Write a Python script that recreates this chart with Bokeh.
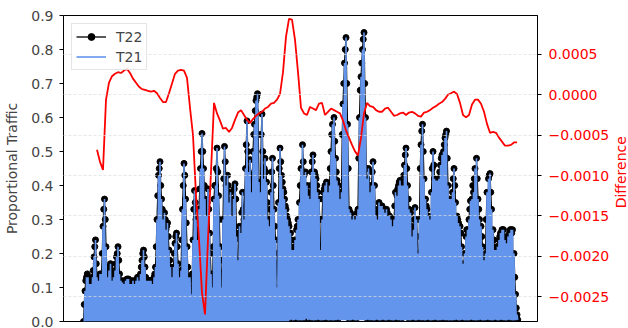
import math
from bokeh.plotting import figure
from bokeh.layouts import row
from bokeh.models import (Range1d, LinearAxis, FixedTicker, CustomJSTickFormatter,
                          PrintfTickFormatter, Grid, Legend, LegendItem)
from bokeh.core.properties import value
from bokeh.embed import file_html
from bokeh.resources import INLINE

# ---- data ----
t22 = [
    0.00, 0.05, 0.09, 0.12, 0.13, 0.14, 0.13, 0.11, 0.11, 0.10,
    0.11, 0.12, 0.13, 0.15, 0.19, 0.22, 0.24, 0.17, 0.13, 0.12,
    0.12, 0.13, 0.14, 0.13, 0.14, 0.20, 0.28, 0.33, 0.36, 0.30,
    0.22, 0.16, 0.13, 0.14, 0.15, 0.16, 0.17, 0.14, 0.12, 0.13,
    0.13, 0.14, 0.15, 0.17, 0.19, 0.20, 0.22, 0.18, 0.14, 0.12,
    0.12, 0.11, 0.115, 0.12, 0.11, 0.11, 0.12, 0.12, 0.125, 0.12,
    0.125, 0.12, 0.11, 0.12, 0.11, 0.115, 0.12, 0.11, 0.11, 0.12,
    0.12, 0.12, 0.13, 0.13, 0.12, 0.12, 0.14, 0.16, 0.18, 0.20,
    0.21, 0.19, 0.16, 0.13, 0.12, 0.12, 0.12, 0.11, 0.12, 0.12,
    0.12, 0.12, 0.11, 0.12, 0.13, 0.14, 0.16, 0.22, 0.30, 0.37,
    0.43, 0.45, 0.47, 0.40, 0.36, 0.33, 0.30, 0.28, 0.32, 0.30,
    0.27, 0.28, 0.29, 0.25, 0.21, 0.18, 0.16, 0.14, 0.13, 0.15,
    0.16, 0.20, 0.23, 0.25, 0.26, 0.22, 0.17, 0.14, 0.13, 0.12,
    0.15, 0.24, 0.33, 0.40, 0.465, 0.43, 0.36, 0.29, 0.22, 0.16,
    0.13, 0.12, 0.13, 0.10, 0.08, 0.14, 0.24, 0.33, 0.385, 0.35,
    0.30, 0.27, 0.24, 0.26, 0.33, 0.39, 0.45, 0.50, 0.553, 0.50,
    0.45, 0.40, 0.36, 0.33, 0.31, 0.35, 0.39, 0.33, 0.26, 0.20,
    0.14, 0.08, 0.10, 0.22, 0.36, 0.40, 0.40, 0.45, 0.51, 0.44,
    0.37, 0.30, 0.22, 0.14, 0.10, 0.18, 0.30, 0.42, 0.515, 0.47,
    0.40, 0.36, 0.43, 0.40, 0.35, 0.33, 0.38, 0.35, 0.31, 0.33,
    0.36, 0.39, 0.405, 0.36, 0.25, 0.11, 0.18, 0.26, 0.28, 0.24,
    0.26, 0.32, 0.38, 0.33, 0.30, 0.38, 0.45, 0.52, 0.59, 0.50,
    0.44, 0.42, 0.476, 0.43, 0.38, 0.42, 0.50, 0.55, 0.58, 0.62,
    0.65, 0.66, 0.67, 0.55, 0.41, 0.15, 0.38, 0.55, 0.61, 0.50,
    0.42, 0.45, 0.48, 0.44, 0.41, 0.35, 0.30, 0.26, 0.28, 0.33,
    0.38, 0.44, 0.48, 0.40, 0.33, 0.28, 0.24, 0.17, 0.10, 0.20,
    0.35, 0.45, 0.51, 0.47, 0.43, 0.41, 0.39, 0.38, 0.36, 0.34,
    0.33, 0.31, 0.30, 0.29, 0.28, 0.003, 0.26, 0.24, 0.21, 0.003,
    0.21, 0.22, 0.24, 0.005, 0.27, 0.28, 0.30, 0.003, 0.35, 0.40,
    0.45, 0.003, 0.52, 0.47, 0.43, 0.39, 0.44, 0.008, 0.40, 0.38,
    0.37, 0.005, 0.36, 0.40, 0.44, 0.47, 0.49, 0.003, 0.44, 0.43,
    0.42, 0.40, 0.38, 0.005, 0.36, 0.30, 0.21, 0.003, 0.30, 0.36,
    0.38, 0.39, 0.40, 0.005, 0.41, 0.39, 0.38, 0.003, 0.40, 0.45,
    0.50, 0.55, 0.58, 0.003, 0.60, 0.53, 0.48, 0.44, 0.415, 0.005,
    0.40, 0.38, 0.36, 0.33, 0.38, 0.55, 0.64, 0.70, 0.76, 0.80,
    0.835, 0.70, 0.58, 0.45, 0.33, 0.003, 0.32, 0.31, 0.30, 0.005,
    0.31, 0.30, 0.30, 0.003, 0.31, 0.32, 0.33, 0.48, 0.60, 0.68,
    0.72, 0.76, 0.80, 0.83, 0.85, 0.70, 0.60, 0.45, 0.42, 0.005,
    0.45, 0.40, 0.38, 0.36, 0.40, 0.44, 0.47, 0.003, 0.40, 0.33,
    0.31, 0.005, 0.30, 0.32, 0.35, 0.003, 0.34, 0.33, 0.34, 0.005,
    0.33, 0.33, 0.32, 0.003, 0.33, 0.32, 0.31, 0.005, 0.31, 0.30,
    0.30, 0.29, 0.28, 0.003, 0.30, 0.34, 0.38, 0.005, 0.37, 0.39,
    0.40, 0.41, 0.415, 0.003, 0.40, 0.38, 0.40, 0.43, 0.46, 0.49,
    0.51, 0.45, 0.40, 0.36, 0.33, 0.003, 0.32, 0.28, 0.25, 0.005,
    0.27, 0.30, 0.335, 0.003, 0.30, 0.25, 0.20, 0.005, 0.30, 0.45,
    0.52, 0.56, 0.58, 0.50, 0.42, 0.003, 0.36, 0.34, 0.33, 0.005,
    0.31, 0.30, 0.30, 0.003, 0.38, 0.45, 0.50, 0.46, 0.42, 0.005,
    0.415, 0.41, 0.415, 0.003, 0.42, 0.44, 0.46, 0.48, 0.49, 0.005,
    0.50, 0.52, 0.54, 0.55, 0.56, 0.48, 0.40, 0.003, 0.36, 0.35,
    0.36, 0.003, 0.38, 0.42, 0.45, 0.40, 0.35, 0.005, 0.31, 0.30,
    0.29, 0.003, 0.28, 0.26, 0.22, 0.005, 0.17, 0.16, 0.20, 0.003,
    0.25, 0.27, 0.27, 0.003, 0.30, 0.33, 0.355, 0.005, 0.36, 0.40,
    0.38, 0.42, 0.45, 0.003, 0.48, 0.42, 0.36, 0.33, 0.30, 0.005,
    0.28, 0.25, 0.22, 0.003, 0.18, 0.16, 0.20, 0.30, 0.38, 0.005,
    0.42, 0.43, 0.435, 0.38, 0.33, 0.003, 0.27, 0.24, 0.21, 0.005,
    0.21, 0.22, 0.22, 0.003, 0.24, 0.25, 0.26, 0.005, 0.27, 0.27,
    0.27, 0.25, 0.24, 0.003, 0.23, 0.24, 0.25, 0.005, 0.26, 0.27,
    0.27, 0.26, 0.27, 0.003, 0.20, 0.13, 0.08, 0.04, 0.02, 0.005,
]

t21 = [
    0.00, 0.00, 0.09, 0.00, 0.13, 0.00, 0.13, 0.00, 0.11, 0.00,
    0.11, 0.00, 0.13, 0.00, 0.19, 0.00, 0.24, 0.00, 0.13, 0.00,
    0.12, 0.00, 0.14, 0.00, 0.14, 0.00, 0.28, 0.00, 0.36, 0.00,
    0.22, 0.00, 0.13, 0.00, 0.15, 0.00, 0.17, 0.00, 0.12, 0.00,
    0.13, 0.00, 0.15, 0.00, 0.19, 0.00, 0.22, 0.00, 0.14, 0.00,
    0.12, 0.00, 0.115, 0.00, 0.11, 0.00, 0.12, 0.00, 0.125, 0.00,
    0.125, 0.00, 0.11, 0.00, 0.11, 0.00, 0.12, 0.00, 0.11, 0.00,
    0.12, 0.00, 0.13, 0.00, 0.12, 0.00, 0.14, 0.00, 0.18, 0.00,
    0.21, 0.00, 0.16, 0.00, 0.12, 0.00, 0.12, 0.00, 0.12, 0.00,
    0.12, 0.00, 0.11, 0.00, 0.13, 0.00, 0.16, 0.00, 0.30, 0.00,
    0.43, 0.00, 0.47, 0.00, 0.36, 0.00, 0.30, 0.00, 0.32, 0.00,
    0.27, 0.00, 0.29, 0.00, 0.21, 0.00, 0.16, 0.00, 0.13, 0.00,
    0.16, 0.00, 0.23, 0.00, 0.26, 0.00, 0.17, 0.00, 0.13, 0.00,
    0.15, 0.00, 0.33, 0.00, 0.465, 0.00, 0.36, 0.00, 0.22, 0.00,
    0.13, 0.00, 0.13, 0.00, 0.08, 0.00, 0.24, 0.00, 0.385, 0.00,
    0.30, 0.00, 0.24, 0.00, 0.33, 0.00, 0.45, 0.00, 0.553, 0.00,
    0.45, 0.00, 0.36, 0.00, 0.31, 0.00, 0.39, 0.00, 0.26, 0.00,
    0.14, 0.00, 0.10, 0.00, 0.36, 0.00, 0.40, 0.00, 0.51, 0.00,
    0.37, 0.00, 0.22, 0.00, 0.10, 0.00, 0.30, 0.00, 0.515, 0.00,
    0.40, 0.00, 0.43, 0.00, 0.35, 0.00, 0.38, 0.00, 0.31, 0.00,
    0.36, 0.00, 0.405, 0.00, 0.25, 0.00, 0.18, 0.00, 0.28, 0.00,
    0.26, 0.00, 0.38, 0.00, 0.30, 0.00, 0.45, 0.00, 0.59, 0.00,
    0.44, 0.00, 0.476, 0.00, 0.38, 0.00, 0.50, 0.00, 0.58, 0.00,
    0.65, 0.00, 0.67, 0.00, 0.41, 0.00, 0.38, 0.00, 0.61, 0.00,
    0.42, 0.00, 0.48, 0.00, 0.41, 0.00, 0.30, 0.00, 0.28, 0.00,
    0.38, 0.00, 0.48, 0.00, 0.33, 0.00, 0.24, 0.00, 0.10, 0.00,
    0.35, 0.00, 0.51, 0.00, 0.43, 0.00, 0.39, 0.00, 0.36, 0.00,
    0.33, 0.00, 0.30, 0.00, 0.28, 0.003, 0.26, 0.005, 0.21, 0.003,
    0.21, 0.004, 0.24, 0.005, 0.27, 0.004, 0.30, 0.003, 0.35, 0.004,
    0.45, 0.003, 0.52, 0.004, 0.43, 0.004, 0.44, 0.008, 0.40, 0.004,
    0.37, 0.005, 0.36, 0.004, 0.44, 0.004, 0.49, 0.003, 0.44, 0.004,
    0.42, 0.004, 0.38, 0.005, 0.36, 0.004, 0.21, 0.003, 0.30, 0.004,
    0.38, 0.004, 0.40, 0.005, 0.41, 0.004, 0.38, 0.003, 0.40, 0.004,
    0.50, 0.004, 0.58, 0.003, 0.60, 0.004, 0.48, 0.004, 0.415, 0.005,
    0.40, 0.004, 0.36, 0.004, 0.38, 0.004, 0.64, 0.004, 0.76, 0.004,
    0.835, 0.004, 0.58, 0.004, 0.33, 0.003, 0.32, 0.004, 0.30, 0.005,
    0.31, 0.004, 0.30, 0.003, 0.31, 0.004, 0.33, 0.004, 0.60, 0.004,
    0.72, 0.004, 0.80, 0.004, 0.85, 0.004, 0.60, 0.004, 0.42, 0.005,
    0.45, 0.004, 0.38, 0.004, 0.40, 0.004, 0.47, 0.003, 0.40, 0.004,
    0.31, 0.005, 0.30, 0.004, 0.35, 0.003, 0.34, 0.004, 0.34, 0.005,
    0.33, 0.004, 0.32, 0.003, 0.33, 0.004, 0.31, 0.005, 0.31, 0.004,
    0.30, 0.004, 0.28, 0.003, 0.30, 0.004, 0.38, 0.005, 0.37, 0.004,
    0.40, 0.004, 0.415, 0.003, 0.40, 0.004, 0.40, 0.004, 0.46, 0.004,
    0.51, 0.004, 0.40, 0.004, 0.33, 0.003, 0.32, 0.004, 0.25, 0.005,
    0.27, 0.004, 0.335, 0.003, 0.30, 0.004, 0.20, 0.005, 0.30, 0.004,
    0.52, 0.004, 0.58, 0.004, 0.42, 0.003, 0.36, 0.004, 0.33, 0.005,
    0.31, 0.004, 0.30, 0.003, 0.38, 0.004, 0.50, 0.004, 0.42, 0.005,
    0.415, 0.004, 0.415, 0.003, 0.42, 0.004, 0.46, 0.004, 0.49, 0.005,
    0.50, 0.004, 0.54, 0.004, 0.56, 0.004, 0.40, 0.003, 0.36, 0.004,
    0.36, 0.003, 0.38, 0.004, 0.45, 0.004, 0.35, 0.005, 0.31, 0.004,
    0.29, 0.003, 0.28, 0.004, 0.22, 0.005, 0.17, 0.004, 0.20, 0.003,
    0.25, 0.004, 0.27, 0.003, 0.30, 0.004, 0.355, 0.005, 0.36, 0.004,
    0.38, 0.004, 0.45, 0.003, 0.48, 0.004, 0.36, 0.004, 0.30, 0.005,
    0.28, 0.004, 0.22, 0.003, 0.18, 0.004, 0.20, 0.004, 0.38, 0.005,
    0.42, 0.004, 0.435, 0.004, 0.33, 0.003, 0.27, 0.004, 0.21, 0.005,
    0.21, 0.004, 0.22, 0.003, 0.24, 0.004, 0.26, 0.005, 0.27, 0.004,
    0.27, 0.004, 0.24, 0.003, 0.23, 0.004, 0.25, 0.005, 0.26, 0.004,
    0.27, 0.004, 0.27, 0.003, 0.20, 0.004, 0.08, 0.004, 0.02, 0.005,
]

difference = [
    -0.00068, -0.00083, -0.00093, -0.00006, 0.00015, 0.00023, 0.00026, 0.00028, 0.00027, 0.00030,
    0.00032, 0.00027, 0.00020, 0.00015, 0.00010, 0.00007, 0.00006, 0.00005, 0.00004, 0.00005,
    0.00002, -0.00004, -0.00009, -0.00009, 0.00002, 0.00014, 0.00026, 0.00030, 0.00031, 0.00030,
    0.00021, -0.00016, -0.00050, -0.00124, -0.00179, -0.00245, -0.00272, -0.00179, -0.00095, -0.00010,
    -0.00023, -0.00032, -0.00042, -0.00041, -0.00046, -0.00041, -0.00031, -0.00022, -0.00019, -0.00025,
    -0.00031, -0.00035, -0.00030, -0.00026, -0.00023, -0.00021, -0.00017, -0.00015, -0.00011, -0.00010,
    -0.00006, 0.00001, 0.00028, 0.00072, 0.00094, 0.00093, 0.00068, 0.00028, -0.00016, -0.00023,
    -0.00025, -0.00015, -0.00017, -0.00019, -0.00011, -0.00010, -0.00025, -0.00021, -0.00017, -0.00019,
    -0.00021, -0.00023, -0.00032, -0.00044, -0.00053, -0.00062, -0.00070, -0.00075, -0.00053, -0.00023,
    -0.00010, -0.00014, -0.00015, -0.00019, -0.00021, -0.00021, -0.00017, -0.00016, -0.00021, -0.00026,
    -0.00025, -0.00023, -0.00022, -0.00025, -0.00022, -0.00021, -0.00023, -0.00026, -0.00027, -0.00022,
    -0.00021, -0.00019, -0.00016, -0.00014, -0.00011, -0.00009, -0.00005, 0.00000, 0.00002, 0.00004,
    0.00001, -0.00010, -0.00025, -0.00028, -0.00025, -0.00012, -0.00006, -0.00006, -0.00011, -0.00021,
    -0.00036, -0.00047, -0.00046, -0.00047, -0.00053, -0.00058, -0.00063, -0.00063, -0.00062, -0.00059,
    -0.00059,
]

left_ticks = [0.0, 0.1, 0.2, 0.3, 0.4, 0.5, 0.6, 0.7, 0.8, 0.9]
right_ticks = [-0.0025, -0.002, -0.0015, -0.001, -0.0005, 0.0, 0.0005]
right_title = "Difference"

n = len(t22)
idx = list(range(n))
diff_idx = list(range(18, n, 4))[:len(difference)]

FONT = "DejaVu Sans"
FS = "14px"

p = figure(width=612, height=328, output_backend="svg", toolbar_location=None,
           x_range=Range1d(-26.67, 605.33), y_range=Range1d(0, 0.9),
           x_axis_location=None,
           min_border_left=63, min_border_right=75, min_border_top=15, min_border_bottom=7)
p.background_fill_color = "white"
p.border_fill_color = "white"
p.outline_line_color = "black"
p.outline_line_width = 1
p.xgrid.visible = False
p.ygrid.visible = False

ax_l = p.yaxis[0]
ax_l.ticker = FixedTicker(ticks=left_ticks)
ax_l.formatter = PrintfTickFormatter(format="%.1f")
ax_l.axis_label = "Proportional Traffic"
ax_l.axis_label_text_font = FONT
ax_l.axis_label_text_font_size = FS
ax_l.axis_label_text_font_style = "normal"
ax_l.axis_label_standoff = 8
ax_l.major_label_text_font = FONT
ax_l.major_label_text_font_size = FS
ax_l.major_label_standoff = 6
ax_l.major_tick_out = 4
ax_l.major_tick_in = 0
ax_l.minor_tick_out = 0
ax_l.minor_tick_in = 0
ax_l.axis_line_color = "black"

p.extra_y_ranges = {"diff": Range1d(-0.002807, 0.000982)}
ax_r = LinearAxis(y_range_name="diff", ticker=FixedTicker(ticks=right_ticks),
                  formatter=CustomJSTickFormatter(code="""
                      if (Math.abs(tick) < 1e-12) { return "0.0000"; }
                      return tick.toFixed(4).replace("-", "\\u2212");
                  """))
ax_r.major_label_text_color = "red"
ax_r.major_label_text_font = FONT
ax_r.major_label_text_font_size = FS
ax_r.major_label_standoff = 7
ax_r.major_tick_out = 4
ax_r.major_tick_in = 0
ax_r.minor_tick_out = 0
ax_r.minor_tick_in = 0
ax_r.axis_line_color = "black"
p.add_layout(ax_r, "right")

r1 = p.line(idx, t22, line_color="black", line_width=1.3)
r2 = p.scatter(idx, t22, size=6, fill_color="black", line_color="black")
r3 = p.line(idx, t21, line_color="#6495ED", line_width=1.6)
r4 = p.line(diff_idx, difference, y_range_name="diff", line_color="red", line_width=1.8)

grid = Grid(dimension=1, ticker=FixedTicker(ticks=right_ticks), y_range_name="diff",
            grid_line_color="#dddddd", grid_line_alpha=0.7, grid_line_dash="3 2",
            grid_line_width=1, level="annotation")
p.add_layout(grid)

legend = Legend(items=[LegendItem(label="T22", renderers=[r1, r2]),
                       LegendItem(label="T21", renderers=[r3])],
                location="top_left", margin=8, padding=4, spacing=3,
                glyph_width=30, glyph_height=17, label_height=17, label_standoff=10,
                label_text_font=FONT, label_text_font_size=FS,
                border_line_color="#cccccc", border_line_width=1,
                background_fill_color="white", background_fill_alpha=0.8)
p.add_layout(legend)

# narrow strip holding the right-hand axis title (reads bottom-to-top)
p2 = figure(width=16, height=328, output_backend="svg", toolbar_location=None,
            x_range=Range1d(0, 16), y_range=Range1d(0, 328),
            x_axis_location=None, y_axis_location=None, min_border=0)
p2.outline_line_color = None
p2.xgrid.visible = False
p2.ygrid.visible = False
p2.background_fill_color = "white"
p2.border_fill_color = "white"
p2.text(x=[8], y=[160], text=[right_title], angle=math.pi / 2,
        text_align="center", text_baseline="middle", text_color="red",
        text_font=value(FONT), text_font_size=value(FS))

layout = row(p, p2, spacing=0)
open("out.html", "w", encoding="utf-8").write(file_html(layout, INLINE))
